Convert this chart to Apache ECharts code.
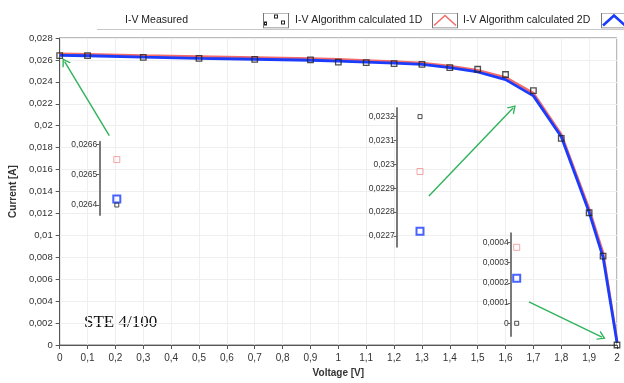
<!DOCTYPE html>
<html>
<head>
<meta charset="utf-8">
<script src="https://cdn.jsdelivr.net/npm/echarts@6/dist/echarts.min.js"></script>
<style>
html,body{margin:0;padding:0;background:#fff;}
#c{width:624px;height:383px;}
</style>
</head>
<body>
<div id="c"></div>
<script>
// ---- data ----
const seriesNames = ['I-V Measured', 'I-V Algorithm calculated 1D', 'I-V Algorithm calculated 2D'];
const voltage  = [0, 0.1, 0.3, 0.5, 0.7, 0.9, 1.0, 1.1, 1.2, 1.3, 1.4, 1.5, 1.6, 1.7, 1.8, 1.9, 1.95, 2.0];
const measured = [0.0264, 0.0264, 0.02623, 0.02614, 0.02605, 0.0260, 0.0258, 0.02575, 0.02566, 0.0256, 0.0253, 0.02515, 0.02467, 0.0232, 0.01884, 0.01206, 0.0081, 0];
const calc1D   = [0.02655, 0.02652, 0.0264, 0.0263, 0.02621, 0.02612, 0.02605, 0.02595, 0.02585, 0.02572, 0.02545, 0.02505, 0.0244, 0.02297, 0.0192, 0.0124, 0.0084, 0.000375];
const calc2D   = [0.02642, 0.02638, 0.02626, 0.02615, 0.02606, 0.02597, 0.0259, 0.0258, 0.0257, 0.0256, 0.0253, 0.0249, 0.0242, 0.02272, 0.0190, 0.0121, 0.0080, 0.000222];
const insetIndex = [0, 13, 17];   // zoomed points: V = 0, 1.7, 2
const insetTicks = [
  [0.0264, 0.0265, 0.0266],
  [0.0227, 0.0228, 0.0229, 0.023, 0.0231, 0.0232],
  [0, 0.0001, 0.0002, 0.0003, 0.0004]
];
const insetRanges = [[0.026367, 0.026609], [0.022655, 0.023236], [-0.0000627, 0.000444]];
const annotationText = 'STE 4/100';
const arrows = [ // [from(V,I), to(V,I)]
  [[0.178, 0.01909], [0.0178, 0.02584]],
  [[1.325, 0.01359], [1.627, 0.02161]],
  [[1.684, 0.00393], [1.946, 0.00072]]
];

// ---- helpers ----
function fmt(v){ return String(parseFloat(Number(v).toPrecision(6))).replace('.', ','); }
const pairs = arr => voltage.map((v, i) => [v, arr[i]]);
const C_RED = '#f26a6a', C_BLUE = '#1a3cff', C_BLACK = '#222', C_GREEN = '#2fb35a';
const FONT = 'Liberation Sans, Arial, sans-serif';

const chart = echarts.init(document.getElementById('c'), null, {renderer: 'canvas'});

const grids = [
  {left: 55, right: 7, top: 38, bottom: 34, show: true, borderColor: '#777', borderWidth: 1, backgroundColor: '#fff'},
  {left: 99.3, top: 141.7, width: 35, height: 73.3},
  {left: 396.7, top: 108, width: 46.6, height: 138.7},
  {left: 510.7, top: 233.3, width: 12, height: 102.7}
];

const xAxes = [{
  type: 'value', gridIndex: 0, min: 0, max: 2, interval: 0.1,
  name: 'Voltage [V]', nameLocation: 'middle', nameGap: 23,
  nameTextStyle: {fontFamily: FONT, fontSize: 10, fontWeight: 'bold', color: '#333'},
  axisLine: {lineStyle: {color: '#555'}},
  axisTick: {length: 4, lineStyle: {color: '#555'}},
  axisLabel: {formatter: fmt, fontFamily: FONT, fontSize: 10, color: '#333', margin: 8},
  splitLine: {show: true, lineStyle: {color: '#efefef'}}
}];
const yAxes = [{
  type: 'value', gridIndex: 0, min: 0, max: 0.028, interval: 0.002,
  name: 'Current [A]', nameLocation: 'middle', nameGap: 38, nameRotate: 90,
  nameTextStyle: {fontFamily: FONT, fontSize: 10, fontWeight: 'bold', color: '#333'},
  axisLine: {show: true, lineStyle: {color: '#555'}},
  axisTick: {show: true, length: 4, lineStyle: {color: '#555'}},
  axisLabel: {formatter: fmt, fontFamily: FONT, fontSize: 9.5, color: '#333', margin: 7},
  splitLine: {show: true, lineStyle: {color: '#efefef'}}
}];

for (let k = 0; k < 3; k++) {
  xAxes.push({type: 'category', gridIndex: k + 1, data: ['V'], show: false, boundaryGap: true});
  yAxes.push({
    type: 'value', gridIndex: k + 1, min: insetRanges[k][0], max: insetRanges[k][1],
    axisLine: {show: true, lineStyle: {color: '#7a7a7a', width: 2}},
    axisTick: {show: true, length: 3, customValues: insetTicks[k], lineStyle: {color: '#666'}},
    axisLabel: {show: true, customValues: insetTicks[k], formatter: fmt, fontFamily: FONT, fontSize: 8.5, color: '#333', margin: 2},
    splitLine: {show: false}
  });
}

const series = [
  {name: seriesNames[1], type: 'line', xAxisIndex: 0, yAxisIndex: 0, data: pairs(calc1D), showSymbol: false,
   lineStyle: {color: C_RED, width: 2.6}, itemStyle: {color: C_RED}, z: 2, animation: false},
  {name: seriesNames[2], type: 'line', xAxisIndex: 0, yAxisIndex: 0, data: pairs(calc2D), showSymbol: false,
   lineStyle: {color: C_BLUE, width: 2.8}, itemStyle: {color: C_BLUE}, z: 3, animation: false},
  {name: seriesNames[0], type: 'scatter', xAxisIndex: 0, yAxisIndex: 0, data: pairs(measured),
   symbol: 'rect', symbolSize: 5.5, itemStyle: {color: 'rgba(255,255,255,0)', borderColor: C_BLACK, borderWidth: 1.3}, z: 5, animation: false,
   markLine: {
     silent: true, animation: false,
     symbol: ['none', 'path://M5,0L10,10L8.4,10L5,3.2L1.6,10L0,10Z'], symbolSize: [10, 8],
     lineStyle: {color: C_GREEN, width: 1.4, type: 'solid'},
     label: {show: false},
     data: arrows.map(a => [{coord: a[0]}, {coord: a[1]}])
   }}
];

const insetStyles = [
  {arr: measured, size: 4, color: C_BLACK, bw: 1},
  {arr: calc1D, size: 6, color: '#f09090', bw: 1},
  {arr: calc2D, size: 7, color: C_BLUE, bw: 2}
];
for (let k = 0; k < 3; k++) {
  insetStyles.forEach((s, j) => {
    series.push({
      name: seriesNames[j] + ' inset', type: 'scatter', xAxisIndex: k + 1, yAxisIndex: k + 1,
      data: [['V', s.arr[insetIndex[k]]]], symbol: 'rect', symbolSize: s.size,
      itemStyle: {color: 'rgba(255,255,255,0)', borderColor: s.color, borderWidth: s.bw},
      z: 5 - j, animation: false
    });
  });
}

function svgIcon(inner){
  const svg = "<svg xmlns='http://www.w3.org/2000/svg' width='26' height='16' viewBox='0 0 26 16'>" +
    "<rect x='0.5' y='0.5' width='25' height='15' fill='white' stroke='#777' stroke-width='1'/>" + inner + "</svg>";
  return 'data:image/svg+xml;charset=utf-8,' + encodeURIComponent(svg);
}
const icons = [
  svgIcon("<rect x='11.5' y='2.5' width='3' height='3' fill='none' stroke='#222'/><rect x='18.5' y='8.5' width='3' height='3' fill='none' stroke='#222'/><rect x='1.5' y='9.5' width='2' height='3' fill='none' stroke='#222'/>"),
  svgIcon("<polyline points='2,13 13,3 24,13' fill='none' stroke='" + C_RED + "' stroke-width='1.5'/>"),
  svgIcon("<polyline points='2,13 13,3 24,13' fill='none' stroke='" + C_BLUE + "' stroke-width='2.6'/>")
];
const legendTextX = [125, 295, 463];
const legendIconX = [263, 432, 601];

const graphic = [
  {type: 'line', shape: {x1: 97, y1: 29.5, x2: 624, y2: 29.5}, style: {stroke: '#c8c8c8', lineWidth: 1}, silent: true},
  {type: 'text', x: 84, y: 323, style: {text: annotationText, font: '17px "Liberation Serif", "Times New Roman", serif', fill: '#111', verticalAlign: 'middle'}, silent: true}
];
for (let i = 0; i < 3; i++) {
  graphic.push({type: 'text', x: legendTextX[i], y: 20, style: {text: seriesNames[i], font: '10.5px ' + FONT, fill: '#222', verticalAlign: 'middle'}, silent: true});
  graphic.push({type: 'image', x: legendIconX[i], y: 12.5, style: {image: icons[i], width: 26, height: 16}, silent: true});
}

chart.setOption({
  backgroundColor: '#fff',
  animation: false,
  grid: grids,
  xAxis: xAxes,
  yAxis: yAxes,
  series: series,
  graphic: graphic
});
</script>
</body>
</html>
